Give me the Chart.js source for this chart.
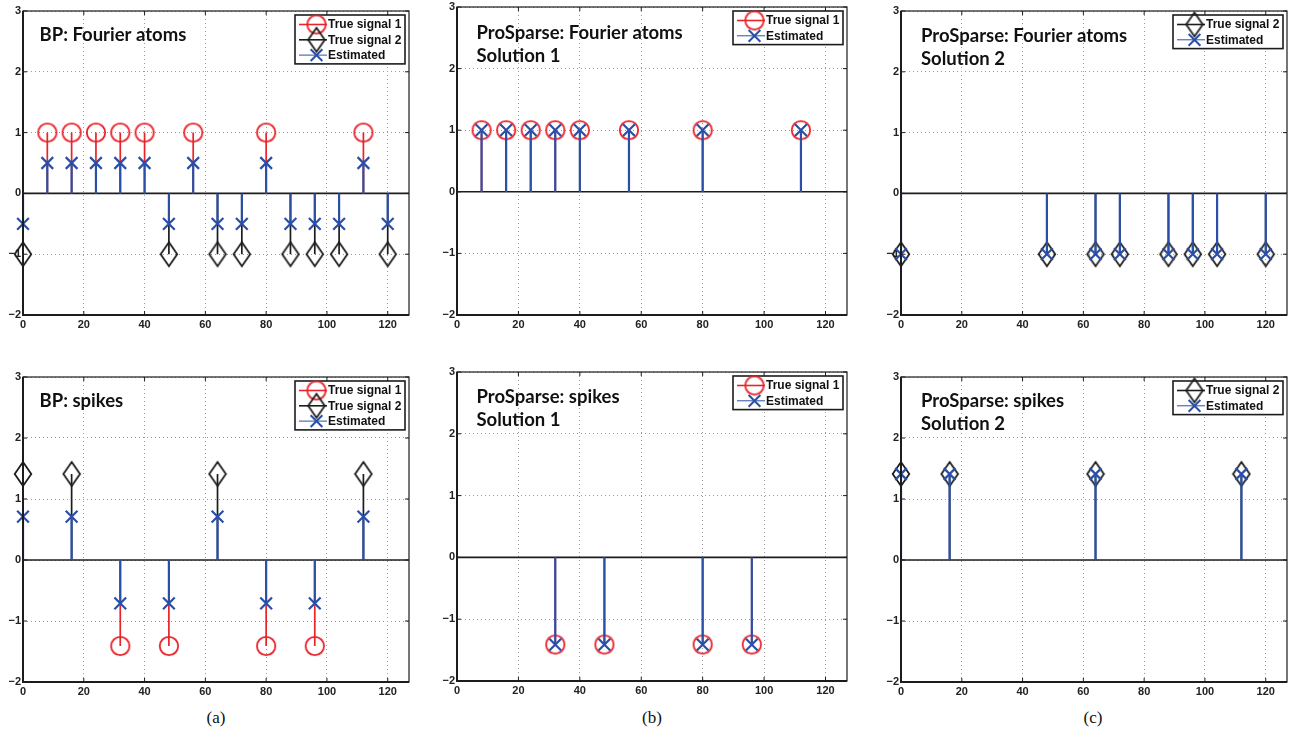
<!DOCTYPE html>
<html>
<head>
<meta charset="utf-8">
<script src="https://cdn.jsdelivr.net/npm/chart.js@4.4.1/dist/chart.umd.min.js"></script>
<style>
    html, body { margin: 0; padding: 0; background: #fff; }
    body { width: 1289px; height: 735px; position: relative; overflow: hidden; }
    .panel { position: absolute; }
    .caption {
        position: absolute;
        font-family: 'Liberation Serif', 'DejaVu Serif', serif;
        font-size: 17px;
        color: #111;
        transform: translateX(-50%);
    }
</style>
</head>
<body>
<div class="panel" id="p-fa-bp"><canvas id="c-fa-bp"></canvas></div>
<div class="panel" id="p-fa-s1"><canvas id="c-fa-s1"></canvas></div>
<div class="panel" id="p-fa-s2"><canvas id="c-fa-s2"></canvas></div>
<div class="panel" id="p-sp-bp"><canvas id="c-sp-bp"></canvas></div>
<div class="panel" id="p-sp-s1"><canvas id="c-sp-s1"></canvas></div>
<div class="panel" id="p-sp-s2"><canvas id="c-sp-s2"></canvas></div>
<div class="caption" style="left:216px; top:708px;">(a)</div>
<div class="caption" style="left:652px; top:708px;">(b)</div>
<div class="caption" style="left:1093px; top:708px;">(c)</div>

<script>
// Stem plots: BP vs ProSparse on Fourier atoms and spikes

// --- data -------------------------------------------------------------
// sample indices of the nonzero coefficients
const fourierIdx1 = [8, 16, 24, 32, 40, 56, 80, 112];
const fourierIdx2 = [0, 48, 64, 72, 88, 96, 104, 120];
const spikeIdx1 = [32, 48, 80, 96];
const spikeIdx2 = [0, 16, 64, 112];

// amplitudes, Fourier atoms
const fourierTrue1 = [1, 1, 1, 1, 1, 1, 1, 1];
const fourierTrue2 = [-1, -1, -1, -1, -1, -1, -1, -1];
const fourierBP1 = [0.5, 0.5, 0.5, 0.5, 0.5, 0.5, 0.5, 0.5];
const fourierBP2 = [-0.5, -0.5, -0.5, -0.5, -0.5, -0.5, -0.5, -0.5];
const fourierPro1 = [1, 1, 1, 1, 1, 1, 1, 1];
const fourierPro2 = [-1, -1, -1, -1, -1, -1, -1, -1];

// amplitudes, spikes
const spikeTrue1 = [-1.41, -1.41, -1.41, -1.41];
const spikeTrue2 = [1.41, 1.41, 1.41, 1.41];
const spikeBP1 = [-0.71, -0.71, -0.71, -0.71];
const spikeBP2 = [0.71, 0.71, 0.71, 0.71];
const spikePro1 = [-1.41, -1.41, -1.41, -1.41];
const spikePro2 = [1.41, 1.41, 1.41, 1.41];

// axes
const xTicks = [0, 20, 40, 60, 80, 100, 120];
const yTicks = [-2, -1, 0, 1, 2, 3];
const xMin = 0;
const xMax = 127;
const yMin = -2;
const yMax = 3;

// --- styles -----------------------------------------------------------
const RED = '#e8232a';
const BLACK = '#1c1c1c';
const BLUE = '#2b4fa6';
const GRID = '#9a9a9a';

// Marker images (MATLAB 'o', 'd')
function makeCircle(color) {
    const c = document.createElement('canvas');
    c.width = 22; c.height = 22;
    const g = c.getContext('2d');
    g.strokeStyle = color;
    g.lineWidth = 1.8;
    g.beginPath();
    g.arc(11, 11, 9.2, 0, Math.PI * 2);
    g.stroke();
    return c;
}

function makeDiamond(color) {
    const c = document.createElement('canvas');
    c.width = 20; c.height = 28;
    const g = c.getContext('2d');
    g.strokeStyle = color;
    g.lineWidth = 1.8;
    g.beginPath();
    g.moveTo(10, 2);
    g.lineTo(18.3, 14);
    g.lineTo(10, 26);
    g.lineTo(1.7, 14);
    g.closePath();
    g.stroke();
    return c;
}

const circleMarker = makeCircle(RED);
const diamondMarker = makeDiamond(BLACK);

// series styles
const trueStyle1 = { label: 'True signal 1', color: RED, marker: circleMarker, stemWidth: 1.7 };
const trueStyle2 = { label: 'True signal 2', color: BLACK, marker: diamondMarker, stemWidth: 1.7 };
const estStyle = { label: 'Estimated', color: BLUE, marker: 'crossRot', stemWidth: 2.2 };

// --- panels -----------------------------------------------------------
const panels = [
    {
        id: 'fa-bp', box: { l: 23, r: 409, t: 11, b: 315 },
        titles: ['BP: Fourier atoms'], titleDx: 16.5, titleDy: 29.5,
        series: [
            { style: trueStyle1, xs: fourierIdx1, ys: fourierTrue1 },
            { style: trueStyle2, xs: fourierIdx2, ys: fourierTrue2 },
            { style: estStyle, xs: fourierIdx1.concat(fourierIdx2), ys: fourierBP1.concat(fourierBP2) }
        ]
    },
    {
        id: 'fa-s1', box: { l: 457, r: 847, t: 7, b: 315 },
        titles: ['ProSparse: Fourier atoms', 'Solution 1'], titleDx: 19.5, titleDy: 31.5,
        series: [
            { style: trueStyle1, xs: fourierIdx1, ys: fourierTrue1 },
            { style: estStyle, xs: fourierIdx1, ys: fourierPro1 }
        ]
    },
    {
        id: 'fa-s2', box: { l: 901, r: 1287, t: 11, b: 315 },
        titles: ['ProSparse: Fourier atoms', 'Solution 2'], titleDx: 20, titleDy: 31.3,
        series: [
            { style: trueStyle2, xs: fourierIdx2, ys: fourierTrue2 },
            { style: estStyle, xs: fourierIdx2, ys: fourierPro2 }
        ]
    },
    {
        id: 'sp-bp', box: { l: 23, r: 409, t: 377, b: 682 },
        titles: ['BP: spikes'], titleDx: 16.5, titleDy: 29.5,
        series: [
            { style: trueStyle1, xs: spikeIdx1, ys: spikeTrue1 },
            { style: trueStyle2, xs: spikeIdx2, ys: spikeTrue2 },
            { style: estStyle, xs: spikeIdx1.concat(spikeIdx2), ys: spikeBP1.concat(spikeBP2) }
        ]
    },
    {
        id: 'sp-s1', box: { l: 457, r: 847, t: 372, b: 681 },
        titles: ['ProSparse: spikes', 'Solution 1'], titleDx: 19.5, titleDy: 31.3,
        series: [
            { style: trueStyle1, xs: spikeIdx1, ys: spikeTrue1 },
            { style: estStyle, xs: spikeIdx1, ys: spikePro1 }
        ]
    },
    {
        id: 'sp-s2', box: { l: 901, r: 1287, t: 377, b: 682 },
        titles: ['ProSparse: spikes', 'Solution 2'], titleDx: 20, titleDy: 30.3,
        series: [
            { style: trueStyle2, xs: spikeIdx2, ys: spikeTrue2 },
            { style: estStyle, xs: spikeIdx2, ys: spikePro2 }
        ]
    }
];

// canvas margins around the plot box
// (top/right must exceed the marker overflow Chart.js reserves, ~12px)
const AXIS_W = 24;
const AXIS_H = 22;
const PAD_TOP = 14;
const PAD_RIGHT = 14;

// stem lines: (x,0) -> (x,y), then a gap
function stemData(xs, ys) {
    const pts = [];
    xs.forEach((x, i) => {
        pts.push({ x: x, y: 0 }, { x: x, y: ys[i] }, { x: x, y: null });
    });
    return pts;
}

function buildDatasets(series) {
    const sets = [];
    series.forEach((s, i) => {
        // later series are drawn on top (lower order)
        const base = (series.length - i) * 2;
        sets.push({
            data: stemData(s.xs, s.ys),
            borderColor: s.style.color,
            borderWidth: s.style.stemWidth,
            pointRadius: 0,
            spanGaps: false,
            order: base + 1
        });
        sets.push({
            data: s.xs.map((x, k) => ({ x: x, y: s.ys[k] })),
            showLine: false,
            pointStyle: s.style.marker,
            pointRadius: s.style.marker === 'crossRot' ? 8.3 : 10,
            pointBorderColor: s.style.color,
            pointBackgroundColor: 'rgba(0,0,0,0)',
            pointBorderWidth: 2.2,
            clip: false,
            order: base
        });
    });
    return sets;
}

// draws a legend marker the same way as the plot markers
function drawMarker(ctx, style, x, y) {
    if (style.marker === 'crossRot') {
        Chart.helpers.drawPoint(ctx, { pointStyle: 'crossRot', radius: 8.3, borderWidth: 2 }, x, y);
    } else {
        ctx.drawImage(style.marker, x - style.marker.width / 2, y - style.marker.height / 2);
    }
}

function makeDecorPlugin(panel) {
    return {
        id: 'decor',
        beforeDatasetsDraw(chart) {
            // stem baseline at y = 0
            const { ctx, chartArea } = chart;
            const y0 = chart.scales.y.getPixelForValue(0);
            ctx.save();
            ctx.strokeStyle = BLACK;
            ctx.lineWidth = 1.6;
            ctx.beginPath();
            ctx.moveTo(chartArea.left, y0);
            ctx.lineTo(chartArea.right, y0);
            ctx.stroke();
            ctx.restore();
        },
        afterDraw(chart) {
            const { ctx, chartArea } = chart;
            const xs = chart.scales.x;
            const ys = chart.scales.y;
            ctx.save();

            // box frame with inward ticks
            ctx.strokeStyle = BLACK;
            ctx.lineWidth = 1.2;
            ctx.strokeRect(chartArea.left, chartArea.top, chartArea.right - chartArea.left, chartArea.bottom - chartArea.top);
            ctx.lineWidth = 2;
            ctx.beginPath();
            ctx.moveTo(chartArea.left, chartArea.top);
            ctx.lineTo(chartArea.left, chartArea.bottom);
            ctx.lineTo(chartArea.right, chartArea.bottom);
            ctx.stroke();
            ctx.lineWidth = 1;
            ctx.beginPath();
            xTicks.forEach(v => {
                const px = xs.getPixelForValue(v);
                ctx.moveTo(px, chartArea.bottom); ctx.lineTo(px, chartArea.bottom - 4);
                ctx.moveTo(px, chartArea.top); ctx.lineTo(px, chartArea.top + 4);
            });
            yTicks.forEach(v => {
                const py = ys.getPixelForValue(v);
                ctx.moveTo(chartArea.left, py); ctx.lineTo(chartArea.left + 4, py);
                ctx.moveTo(chartArea.right, py); ctx.lineTo(chartArea.right - 4, py);
            });
            ctx.stroke();

            // panel title
            ctx.fillStyle = '#111';
            ctx.font = 'bold 18.5px Lato';
            ctx.textBaseline = 'alphabetic';
            ctx.textAlign = 'left';
            panel.titles.forEach((t, i) => {
                ctx.fillText(t, chartArea.left + panel.titleDx, chartArea.top + panel.titleDy + i * 23);
            });

            // legend box, top right
            const rows = panel.series;
            const rowH = 15.3;
            const boxW = 110;
            const boxH = rows.length * rowH + 3;
            const bx = chartArea.right - 4 - boxW;
            const by = chartArea.top + 4;
            ctx.fillStyle = '#fff';
            ctx.fillRect(bx, by, boxW, boxH);
            ctx.strokeStyle = BLACK;
            ctx.lineWidth = 1.6;
            ctx.strokeRect(bx, by, boxW, boxH);
            ctx.font = 'bold 12px "Liberation Sans", Arial, sans-serif';
            ctx.textBaseline = 'middle';
            rows.forEach((s, i) => {
                const cy = by + 9.5 + i * rowH;
                ctx.strokeStyle = s.style.color;
                ctx.lineWidth = s.style.marker === 'crossRot' ? 1 : 1.6;
                ctx.beginPath();
                ctx.moveTo(bx + 4, cy);
                ctx.lineTo(bx + 32, cy);
                ctx.stroke();
                ctx.strokeStyle = s.style.color;
                ctx.lineWidth = 2;
                drawMarker(ctx, s.style, bx + 21.5, cy);
                ctx.fillStyle = '#111';
                ctx.fillText(s.style.label, bx + 33, cy + 0.5);
            });
            ctx.restore();
        }
    };
}

function minusLabel(v) {
    return v < 0 ? '\u2212' + Math.abs(v) : String(v);
}

const tickFont = { family: '"Liberation Sans", Arial, sans-serif', size: 11, weight: 'bold' };

// keep the plot box exactly where the axis sizes say
function fixXAxis(axis) {
    axis.height = AXIS_H;
    axis.paddingLeft = 0;
    axis.paddingRight = 0;
}

function fixYAxis(axis) {
    axis.width = AXIS_W;
    axis.paddingTop = 0;
    axis.paddingBottom = 0;
}

panels.forEach(panel => {
    const div = document.getElementById('p-' + panel.id);
    const w = panel.box.r - panel.box.l + AXIS_W + PAD_RIGHT;
    const h = panel.box.b - panel.box.t + AXIS_H + PAD_TOP;
    div.style.left = (panel.box.l - AXIS_W) + 'px';
    div.style.top = (panel.box.t - PAD_TOP) + 'px';
    div.style.width = w + 'px';
    div.style.height = h + 'px';

    new Chart(document.getElementById('c-' + panel.id), {
        type: 'line',
        data: { datasets: buildDatasets(panel.series) },
        options: {
            responsive: true,
            maintainAspectRatio: false,
            animation: false,
            events: [],
            layout: { padding: { top: PAD_TOP, right: PAD_RIGHT, left: 0, bottom: 0 } },
            plugins: {
                legend: { display: false },
                tooltip: { enabled: false }
            },
            scales: {
                x: {
                    type: 'linear',
                    min: xMin,
                    max: xMax,
                    afterBuildTicks: axis => { axis.ticks = xTicks.map(v => ({ value: v })); },
                    afterFit: fixXAxis,
                    ticks: { font: tickFont, color: '#222', padding: 3, maxRotation: 0 },
                    grid: { color: GRID, lineWidth: 1, drawTicks: false },
                    border: { display: false, dash: [1, 3] }
                },
                y: {
                    type: 'linear',
                    min: yMin,
                    max: yMax,
                    afterBuildTicks: axis => { axis.ticks = yTicks.map(v => ({ value: v })); },
                    afterFit: fixYAxis,
                    ticks: { font: tickFont, color: '#222', padding: 2, callback: minusLabel },
                    grid: { color: GRID, lineWidth: 1, drawTicks: false },
                    border: { display: false, dash: [1, 3] }
                }
            }
        },
        plugins: [makeDecorPlugin(panel)]
    });
});
</script>
</body>
</html>
